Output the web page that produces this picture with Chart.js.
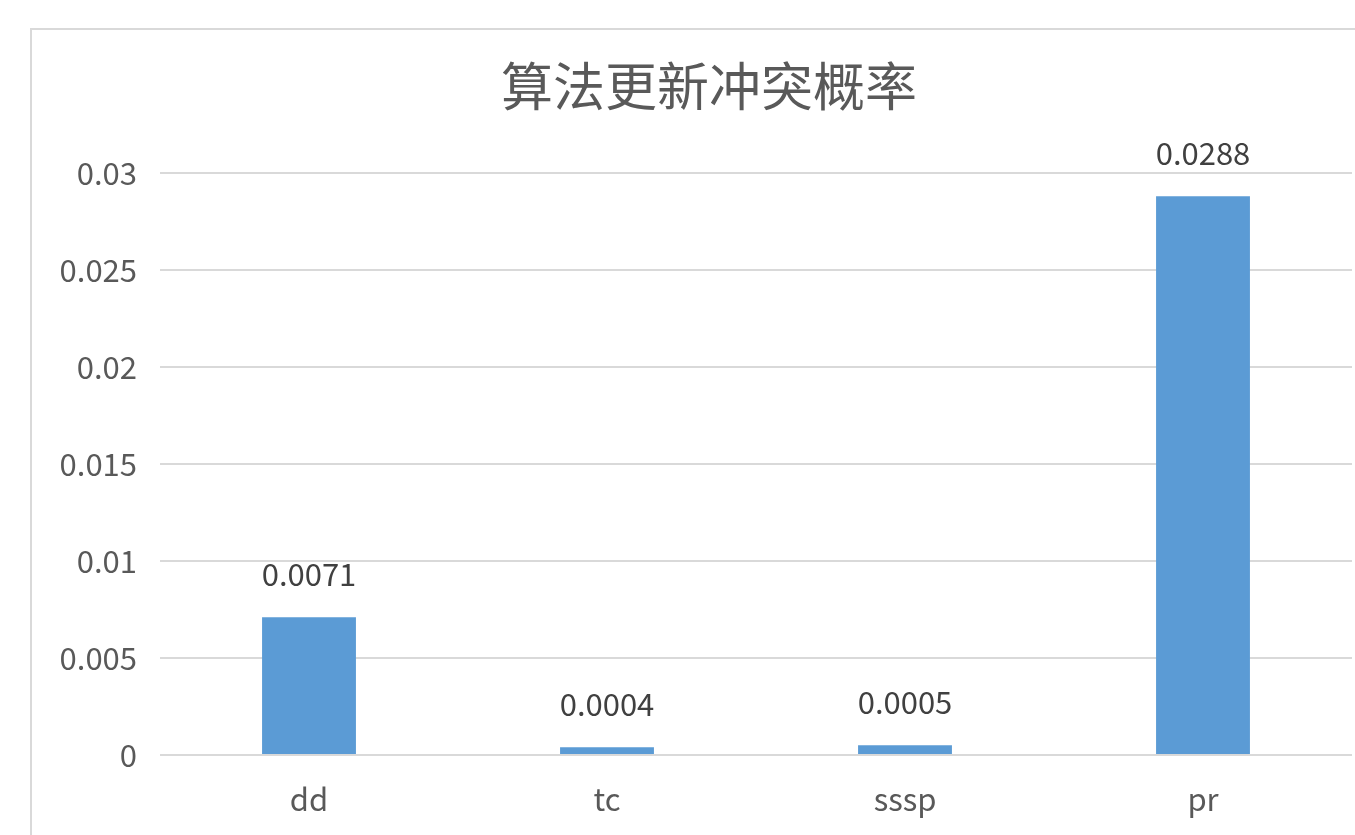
<!DOCTYPE html>
<html>
<head>
<meta charset="utf-8">
<script src="https://cdn.jsdelivr.net/npm/chart.js@4/dist/chart.umd.min.js"></script>
<style>
html,body{margin:0;padding:0;background:#fff;overflow:hidden;}
canvas{display:block;}
</style>
</head>
<body>
<canvas id="c" width="1355" height="835"></canvas>
<script>
const chartTitle = '算法更新冲突概率';
const categories = ['dd', 'tc', 'sssp', 'pr'];
const conflictRates = [0.0071, 0.0004, 0.0005, 0.0288];
const valueLabels = ['0.0071', '0.0004', '0.0005', '0.0288'];
const yTickLabels = ['0', '0.005', '0.01', '0.015', '0.02', '0.025', '0.03'];

const FONT = "'Noto Sans CJK SC', 'Noto Sans', sans-serif";

const framePlugin = {
  id: 'frame',
  beforeDraw(chart) {
    const ctx = chart.ctx;
    ctx.save();
    ctx.fillStyle = '#ffffff';
    ctx.fillRect(0, 0, chart.width, chart.height);
    ctx.strokeStyle = '#d9d9d9';
    ctx.lineWidth = 2;
    ctx.strokeRect(31, 29, 3000, 3000);
    ctx.restore();
  },
  afterLayout(chart) {
    if (chart.titleBlock) {
      chart.titleBlock.left = 66;
    }
  }
};

const valueLabelPlugin = {
  id: 'valueLabels',
  afterDatasetsDraw(chart) {
    const ctx = chart.ctx;
    const meta = chart.getDatasetMeta(0);
    ctx.save();
    ctx.font = '31px ' + FONT;
    ctx.fillStyle = '#404040';
    ctx.textAlign = 'center';
    ctx.textBaseline = 'alphabetic';
    meta.data.forEach((bar, i) => {
      ctx.fillText(valueLabels[i], bar.x, bar.y - 31);
    });
    ctx.restore();
  }
};

new Chart(document.getElementById('c'), {
  type: 'bar',
  data: {
    labels: categories,
    datasets: [{
      data: conflictRates,
      backgroundColor: '#5b9bd5',
      borderWidth: 0,
      barPercentage: 0.315,
      categoryPercentage: 1
    }]
  },
  options: {
    responsive: false,
    animation: false,
    devicePixelRatio: 1,
    layout: { padding: { left: 0, right: 3, top: 0, bottom: 0 } },
    plugins: {
      legend: { display: false },
      tooltip: { enabled: false },
      title: {
        display: true,
        text: chartTitle,
        color: '#595959',
        font: { family: FONT, size: 52, weight: 'normal', lineHeight: 1.2 },
        padding: { top: 55, bottom: 55.6 }
      }
    },
    scales: {
      x: {
        grid: { display: false, drawTicks: false },
        border: { display: false },
        ticks: {
          color: '#595959',
          font: { family: FONT, size: 31 },
          padding: 26
        },
        afterFit(scale) { scale.height = 80; }
      },
      y: {
        min: 0,
        max: 0.03,
        grid: { color: '#d9d9d9', lineWidth: 2, drawTicks: false },
        border: { display: false },
        ticks: {
          stepSize: 0.005,
          color: '#595959',
          font: { family: FONT, size: 31 },
          padding: 23,
          callback: (v, i) => yTickLabels[i]
        },
        afterFit(scale) { scale.width = 160; }
      }
    }
  },
  plugins: [framePlugin, valueLabelPlugin]
});
</script>
</body>
</html>
